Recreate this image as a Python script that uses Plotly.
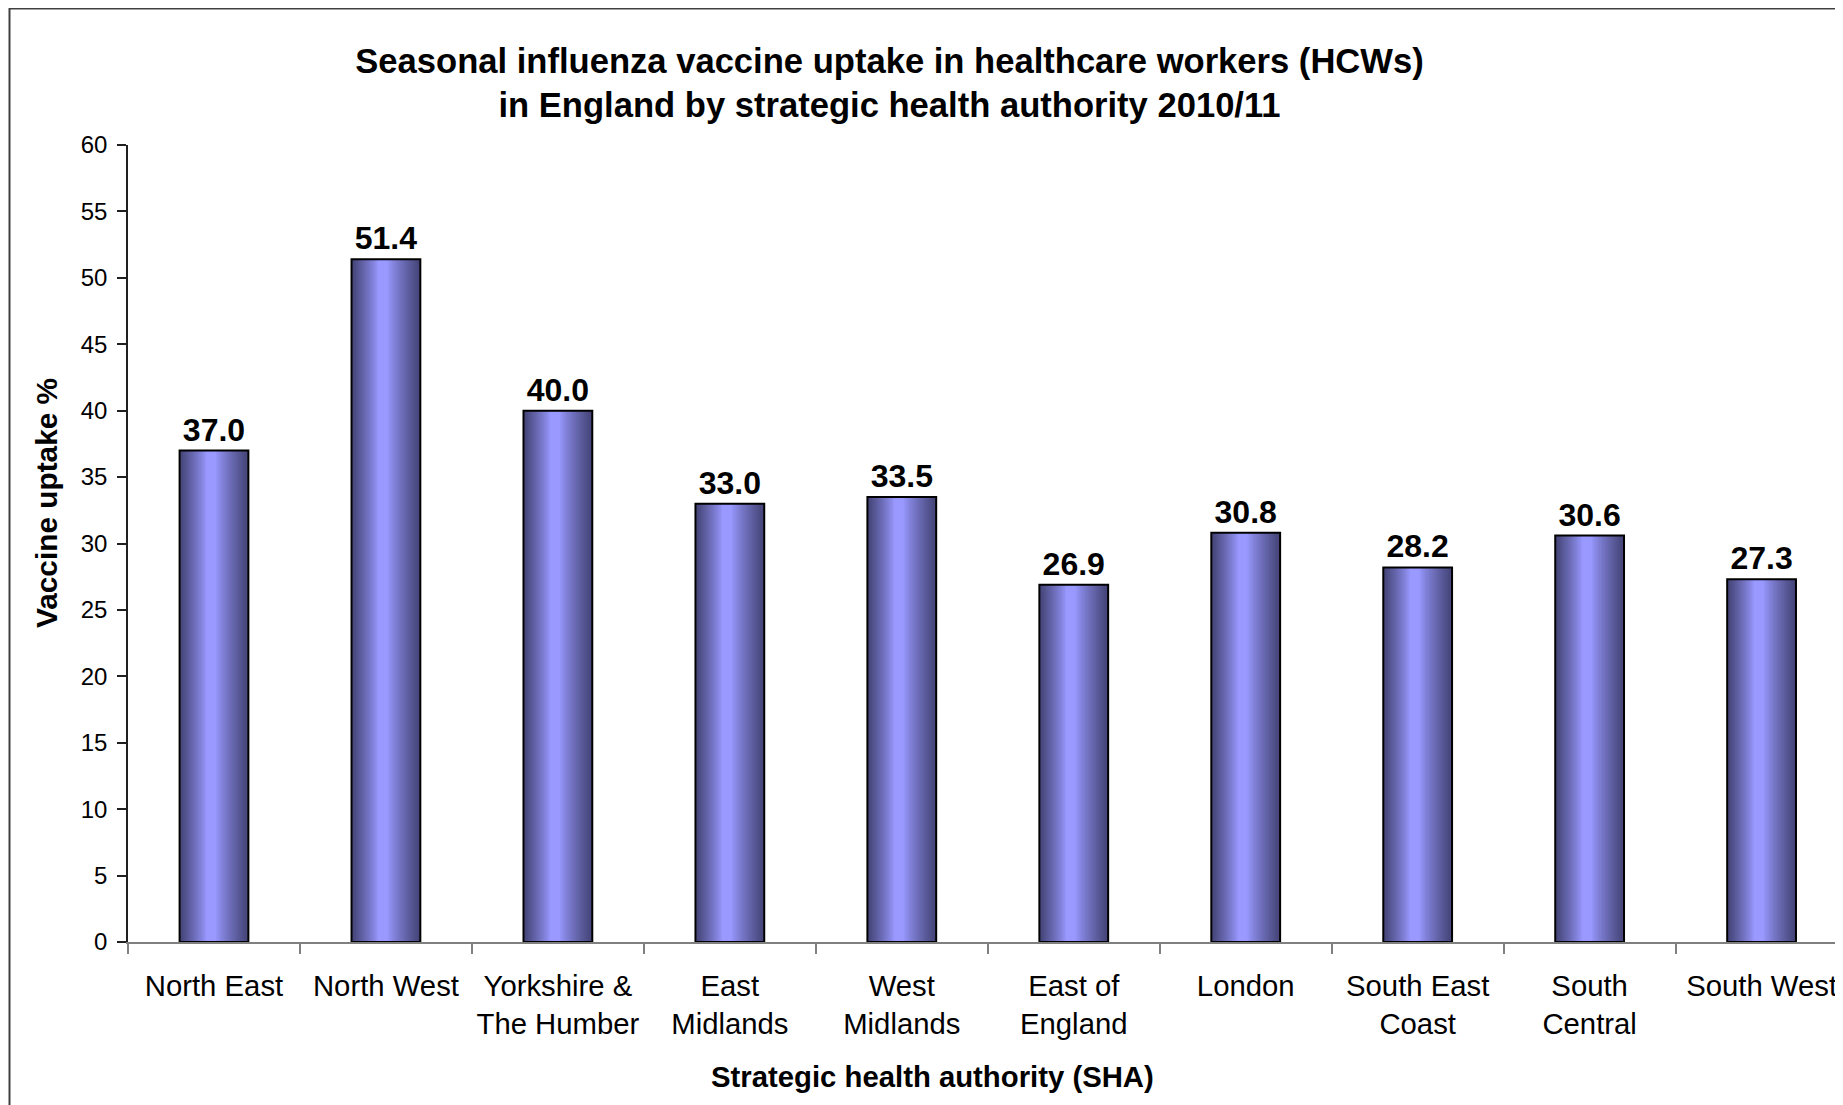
import plotly.graph_objects as go

# ---- data ----
regions = ["North East", "North West", "Yorkshire &<br>The Humber", "East<br>Midlands",
           "West<br>Midlands", "East of<br>England", "London", "South East<br>Coast",
           "South<br>Central", "South West"]
uptake = [37.0, 51.4, 40.0, 33.0, 33.5, 26.9, 30.8, 28.2, 30.6, 27.3]
y_ticks = [0, 5, 10, 15, 20, 25, 30, 35, 40, 45, 50, 55, 60]

FONT = "Arial, 'Liberation Sans', sans-serif"
W, H = 1843, 1105
L, T, B = 120, 137, 171
PW = W - L
PH = H - T - B
ZERO = H - B  # y pixel of axis (figure coords)

BAR_W = 0.40
DARK = (72, 72, 125)
LIGHT = (153, 153, 255)
N_LAYERS = 28


def mix(t):
    r = [round(LIGHT[k] + (DARK[k] - LIGHT[k]) * t) for k in range(3)]
    return f"rgb({r[0]},{r[1]},{r[2]})"


fig = go.Figure()
for i in range(N_LAYERS):
    f = 1 - i / N_LAYERS  # fraction of full width
    t = min(1.0, max(0.0, (f - 0.15) / 0.8)) ** 0.85
    w = BAR_W * f
    shift = -0.02 * (1 - f)
    fig.add_trace(go.Bar(
        x=regions, y=uptake, width=w, offset=shift - w / 2,
        marker=dict(color=mix(t), line=dict(width=0)),
        hoverinfo="skip", showlegend=False,
    ))

# outline + labels
fig.add_trace(go.Bar(
    x=regions, y=uptake, width=BAR_W, offset=-BAR_W / 2,
    marker=dict(color="rgba(0,0,0,0)", line=dict(color="black", width=2)),
    texttemplate="%{y:.1f}", textposition="outside",
    textfont=dict(family=FONT, size=32, color="black", weight="bold"),
    cliponaxis=False, showlegend=False,
))

fig.update_layout(
    width=W, height=H,
    barmode="overlay",
    paper_bgcolor="white", plot_bgcolor="white",
    margin=dict(l=L, r=0, t=T, b=B, autoexpand=False),
    font=dict(family=FONT, color="black"),
    title=dict(
        text="<b>Seasonal influenza vaccine uptake in healthcare workers (HCWs)<br>"
             "in England by strategic health authority 2010/11</b>",
        x=881.5 / W, xref="container", xanchor="center",
        y=1 - 64.5 / H, yref="container", yanchor="middle",
        font=dict(family=FONT, size=34.6, color="black"),
    ),
    xaxis=dict(
        type="category", range=[-0.5, 9.52],
        showline=True, linecolor="#808080", linewidth=2,
        ticks="outside", tickson="boundaries", ticklen=10, tickcolor="#808080", tickwidth=1.5,
        ticklabelstandoff=17, tickangle=0,
        tickfont=dict(family=FONT, size=29.3, color="black"),
        showgrid=False, zeroline=False, fixedrange=True,
    ),
    yaxis=dict(
        range=[0, 60], tickvals=y_ticks,
        showline=True, linecolor="#202020", linewidth=1.5,
        ticks="outside", ticklen=9, tickcolor="#202020", tickwidth=1.5,
        ticklabelstandoff=5,
        tickfont=dict(family=FONT, size=24, color="black"),
        showgrid=False, zeroline=False,
    ),
    annotations=[
        dict(text="<b>Vaccine uptake %</b>", textangle=-90,
             x=(39 - L) / PW, y=(ZERO - 495) / PH, xref="paper", yref="paper",
             xanchor="center", yanchor="middle", showarrow=False,
             font=dict(family=FONT, size=29.8, color="black")),
        dict(text="<b>Strategic health authority (SHA)</b>",
             x=(924 - L) / PW, y=(ZERO - 1068) / PH, xref="paper", yref="paper",
             xanchor="center", yanchor="middle", showarrow=False,
             font=dict(family=FONT, size=29.3, color="black")),
    ],
    shapes=[
        dict(type="rect", xref="paper", yref="paper",
             x0=(1.5 - L) / PW, x1=1.05, y0=(ZERO - 1130) / PH, y1=(ZERO - 0.5) / PH,
             line=dict(color="#404040", width=2), fillcolor="rgba(0,0,0,0)", layer="below"),
    ],
)

fig.write_html("out.html")
